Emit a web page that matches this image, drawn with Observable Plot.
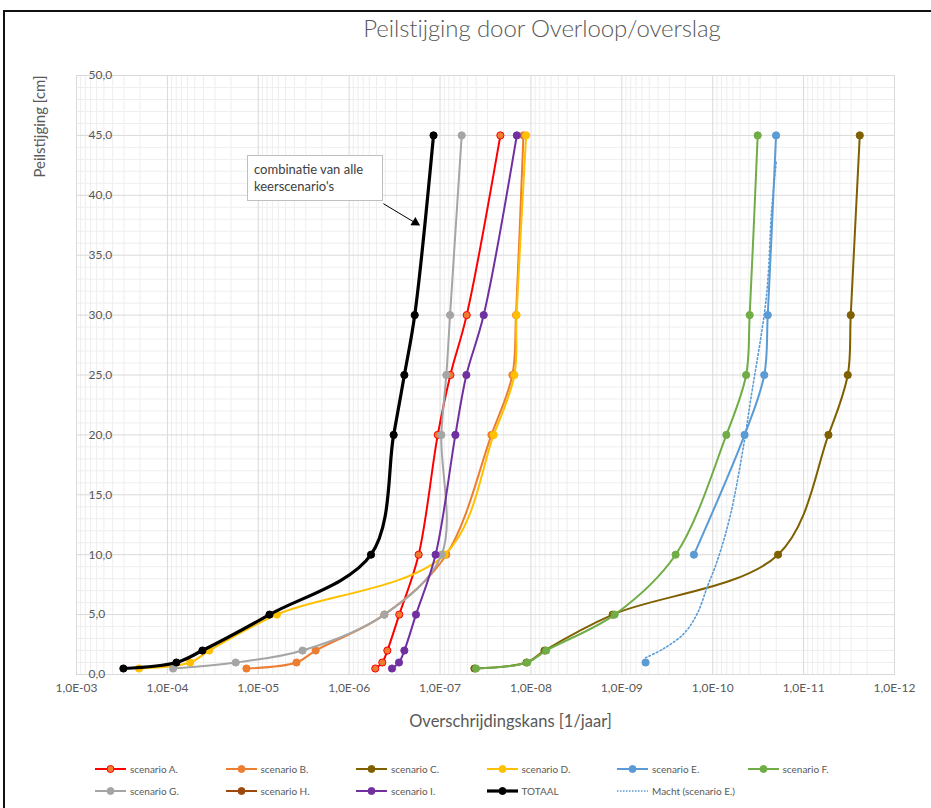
<!DOCTYPE html>
<html>
<head>
<meta charset="utf-8">
<script src="https://cdn.jsdelivr.net/npm/d3@7"></script>
<script src="https://cdn.jsdelivr.net/npm/@observablehq/plot@0.6"></script>
<style>
  html, body { margin: 0; padding: 0; background: #fff; }
  #wrap { position: relative; width: 931px; height: 808px; overflow: hidden; font-family: Lato, "Open Sans", sans-serif; }
  #border { position: absolute; left: 3px; top: 10px; right: -5px; bottom: -5px; border-left: 2px solid #111; border-top: 2px solid #111; pointer-events: none; }
  #title { position: absolute; top: 13px; left: 0; width: 1084px; text-align: center; font-size: 24px; color: #595959; font-weight: 300; letter-spacing: -0.1px; }
  #chart { position: absolute; left: 0; top: 60px; }
  #note { position: absolute; left: 247px; top: 155px; width: 122px; height: 34px; padding: 5px 6px; border: 1px solid #bfbfbf; background: #fff; font-size: 13px; line-height: 17px; color: #404040; }
  #legend { position: absolute; left: 0; top: 763px; width: 931px; }
  .row { position: relative; height: 22px; }
  .item { position: absolute; top: 0; display: flex; align-items: center; font-size: 10px; color: #595959; }
  .item svg { margin-right: 4px; }
</style>
</head>
<body>
<div id="wrap">
  <div id="title">Peilstijging door Overloop/overslag</div>
  <div id="chart"></div>
  <div id="note">combinatie van alle keerscenario's</div>
  <div id="legend"></div>
  <div id="border"></div>
</div>
<script>
// Peilstijging levels (cm)
const levels = [0.5, 1, 2, 5, 10, 20, 25, 30, 45];

// Overschrijdingskans [1/jaar] per scenario, aligned with levels
const scenarioA = [5.16e-7, 4.32e-7, 3.8e-7, 2.81e-7, 1.72e-7, 1.06e-7, 7.7e-8, 5.09e-8, 2.17e-8];
const scenarioB = [1.35e-5, 3.8e-6, 2.34e-6, 4.1e-7, 8.53e-8, 2.72e-8, 1.6e-8, 1.46e-8, 1.21e-8];
const scenarioC = [4.19e-8, 1.12e-8, 7.1e-9, 1.26e-9, 1.91e-11, 5.33e-12, 3.27e-12, 3.03e-12, 2.41e-12];
const scenarioD = [2.05e-4, 5.62e-5, 3.47e-5, 6.24e-6, 8.9e-8, 2.57e-8, 1.52e-8, 1.44e-8, 1.13e-8];
const scenarioE = [null, 5.48e-10, null, null, 1.61e-10, 4.46e-11, 2.71e-11, 2.48e-11, 2.01e-11];
const scenarioF = [4.02e-8, 1.1e-8, 6.8e-9, 1.2e-9, 2.56e-10, 7.08e-11, 4.29e-11, 3.92e-11, 3.2e-11];
const scenarioG = [8.65e-5, 1.77e-5, 3.26e-6, 4.1e-7, 9.6e-8, 9.68e-8, 8.53e-8, 7.76e-8, 5.78e-8];
const scenarioH = [null, null, null, null, null, null, null, null, null];
const scenarioI = [3.38e-7, 2.83e-7, 2.47e-7, 1.84e-7, 1.12e-7, 6.78e-8, 5.13e-8, 3.31e-8, 1.43e-8];
const totaal    = [3.05e-4, 7.96e-5, 4.12e-5, 7.53e-6, 5.75e-7, 3.24e-7, 2.47e-7, 1.9e-7, 1.18e-7];

// Macht (scenario E.) trend line
const trendP = [5.48e-10, 3.45e-10, 2.07e-10, 1.48e-10, 1.15e-10, 8.9e-11, 6.35e-11, 4.54e-11, 3.83e-11, 2.57e-11, 2.25e-11, 2.0e-11];
const trendY = [1.4, 2.17, 3.42, 5.08, 7.3, 9.5, 13.4, 19.25, 22.9, 31.5, 38.7, 42.8];

// Axis ticks
const xTicks = [1e-3, 1e-4, 1e-5, 1e-6, 1e-7, 1e-8, 1e-9, 1e-10, 1e-11, 1e-12];
const yTicks = [0, 5, 10, 15, 20, 25, 30, 35, 40, 45, 50];

// Annotation arrow (data coordinates)
const noteArrow = [{x1: 4.2e-7, y1: 39.3, x2: 1.78e-7, y2: 37.6}];

const series = [
  {name: "scenario A.", values: scenarioA, stroke: "#FF0000", fill: "#ED7D31", width: 2},
  {name: "scenario B.", values: scenarioB, stroke: "#ED7D31", fill: "#ED7D31", width: 2},
  {name: "scenario C.", values: scenarioC, stroke: "#7F6000", fill: "#7F6000", width: 2},
  {name: "scenario D.", values: scenarioD, stroke: "#FFC000", fill: "#FFC000", width: 2},
  {name: "scenario E.", values: scenarioE, stroke: "#5B9BD5", fill: "#5B9BD5", width: 2},
  {name: "scenario F.", values: scenarioF, stroke: "#70AD47", fill: "#70AD47", width: 2},
  {name: "scenario G.", values: scenarioG, stroke: "#A5A5A5", fill: "#A5A5A5", width: 2},
  {name: "scenario H.", values: scenarioH, stroke: "#9E480E", fill: "#9E480E", width: 2},
  {name: "scenario I.", values: scenarioI, stroke: "#7030A0", fill: "#7030A0", width: 2},
  {name: "TOTAAL", values: totaal, stroke: "#000000", fill: "#000000", width: 3.2}
];

const minorX = [];
for (let e = -3; e > -12; e--) for (let m = 2; m <= 9; m++) minorX.push(m * Math.pow(10, e - 1));
const minorY = d3.range(0, 51, 1).filter(v => v % 5 !== 0);

const fmtX = d => "1,0E-" + String(Math.round(-Math.log10(d))).padStart(2, "0");
const fmtY = d => d.toFixed(1).replace(".", ",");

const marks = [
  Plot.gridX(minorX, {stroke: "#eeeeee", strokeOpacity: 1}),
  Plot.gridY(minorY, {stroke: "#eeeeee", strokeOpacity: 1}),
  Plot.gridX(xTicks, {stroke: "#d9d9d9", strokeOpacity: 1}),
  Plot.gridY(yTicks, {stroke: "#d9d9d9", strokeOpacity: 1}),
  Plot.frame({stroke: "#d9d9d9"}),
  Plot.axisX(xTicks, {tickSize: 0, tickPadding: 9, tickFormat: fmtX, fontSize: 12, fill: "#595959", label: null}),
  Plot.axisY(yTicks, {anchor: "left", tickSize: 0, tickPadding: 0, dx: 12, textAnchor: "start", tickFormat: fmtY, fontSize: 12, fill: "#595959", label: null}),
  Plot.text(["Overschrijdingskans [1/jaar]"], {frameAnchor: "bottom", textAnchor: "middle", dx: 25, dy: 52, fontSize: 16.5, fill: "#595959"}),
  Plot.text(["Peilstijging [cm]"], {frameAnchor: "top-left", textAnchor: "middle", lineAnchor: "middle", dx: -36, dy: 51, rotate: -90, fontSize: 15, fill: "#595959"})
];

for (const s of series) {
  const rows = levels.map((y, i) => ({p: s.values[i], y}));
  marks.push(Plot.line(rows, {x: "p", y: "y", stroke: s.stroke, strokeWidth: s.width, curve: "catmull-rom"}));
  marks.push(Plot.dot(rows, {x: "p", y: "y", r: 3.6, fill: s.fill, stroke: s.stroke, strokeWidth: 1}));
}
const trendRows = trendP.map((p, i) => ({p, y: trendY[i]}));
marks.push(Plot.line(trendRows, {x: "p", y: "y", stroke: "#5B9BD5", strokeWidth: 1.6, strokeDasharray: "1.6,2.4", curve: "catmull-rom"}));
marks.push(Plot.link(noteArrow, {x1: "x1", y1: "y1", x2: "x2", y2: "y2", stroke: "#000", strokeWidth: 1}));
marks.push(Plot.dot(noteArrow, {x: "x2", y: "y2", symbol: "triangle", r: 3.6, fill: "#000", stroke: "none", rotate: 121, dx: -2, dy: -1.5}));

const chart = Plot.plot({
  width: 931,
  height: 680,
  marginLeft: 76,
  marginRight: 37,
  marginTop: 15,
  marginBottom: 66,
  style: {fontFamily: "Lato, 'Open Sans', sans-serif", background: "transparent", overflow: "visible"},
  x: {type: "log", domain: [1e-3, 1e-12]},
  y: {domain: [0, 50]},
  marks
});
document.getElementById("chart").appendChild(chart);

// Legend
const legendRows = [
  series.slice(0, 6).map(s => ({...s, kind: "line"})),
  [...series.slice(6, 10).map(s => ({...s, kind: "line"})), {name: "Macht (scenario E.)", stroke: "#5B9BD5", kind: "dotted"}]
];
const legend = document.getElementById("legend");
legendRows.forEach(items => {
  const row = document.createElement("div");
  row.className = "row";
  items.forEach((it, i) => {
    const el = document.createElement("div");
    el.className = "item";
    el.style.left = (95 + i * 130.5) + "px";
    const sw = it.kind === "dotted"
      ? `<svg width="31" height="10"><line x1="0" y1="5" x2="31" y2="5" stroke="${it.stroke}" stroke-width="1.6" stroke-dasharray="1.5,1.5"/></svg>`
      : `<svg width="31" height="10"><line x1="0" y1="5" x2="31" y2="5" stroke="${it.stroke}" stroke-width="${it.width > 3 ? 3.2 : 2}"/><circle cx="15.5" cy="5" r="3.5" fill="${it.fill}" stroke="${it.stroke}"/></svg>`;
    el.innerHTML = sw + `<span>${it.name}</span>`;
    row.appendChild(el);
  });
  legend.appendChild(row);
});
</script>
</body>
</html>
